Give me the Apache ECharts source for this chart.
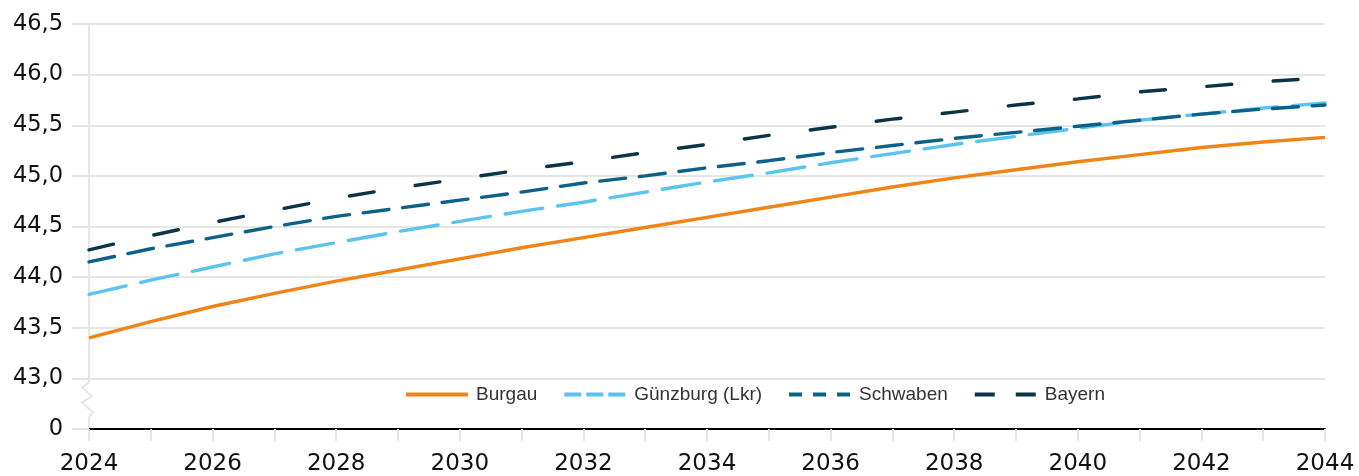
<!DOCTYPE html>
<html><head><meta charset="utf-8">
<script src="https://cdn.jsdelivr.net/npm/echarts@6/dist/echarts.min.js"></script>
<style>html,body{margin:0;padding:0;background:#fff}#c{width:1359px;height:476px}</style>
</head><body><div id="c"></div>
<script>
const years = ['2024','2025','2026','2027','2028','2029','2030','2031','2032','2033','2034','2035','2036','2037','2038','2039','2040','2041','2042','2043','2044'];
const burgau   = [43.40,43.56,43.71,43.84,43.96,44.07,44.18,44.29,44.39,44.49,44.59,44.69,44.79,44.89,44.98,45.06,45.14,45.21,45.28,45.335,45.38];
const guenzburg= [43.83,43.97,44.10,44.23,44.34,44.45,44.55,44.65,44.74,44.84,44.94,45.03,45.13,45.22,45.31,45.39,45.47,45.55,45.61,45.67,45.72];
const schwaben = [44.15,44.28,44.39,44.50,44.60,44.68,44.76,44.84,44.93,45.00,45.08,45.15,45.23,45.30,45.37,45.43,45.49,45.55,45.61,45.66,45.70];
const bayern   = [44.27,44.41,44.54,44.66,44.78,44.88,44.97,45.06,45.14,45.23,45.31,45.40,45.48,45.56,45.63,45.70,45.76,45.83,45.88,45.93,45.97];
const seriesNames = ['Burgau','Günzburg (Lkr)','Schwaben','Bayern'];
const yMin = 42.5, yMax = 46.5, yStep = 0.5;

const colors = ['#f08416','#5ac4ec','#0c6189','#0a3547'];
const GRID = '#e6e6e6';
const chart = echarts.init(document.getElementById('c'), null, {renderer:'canvas'});

function mk(name, data, color, dash){
  return {
    name, type:'line', data, symbol:'none', smooth:false,
    lineStyle:{color, width:3.4, type: dash || 'solid', cap: dash ? 'round' : 'butt'},
    itemStyle:{color},
    emphasis:{disabled:true}, animation:false, z:3
  };
}

const option = {
  animation:false,
  grid:{left:89, right:34, top:24, bottom:46, containLabel:false},
  xAxis:{
    type:'category', data:years, boundaryGap:false,
    axisLine:{show:true, lineStyle:{color:'#000', width:2}},
    axisTick:{show:true, interval:0, length:12, lineStyle:{color:GRID, width:2}},
    axisLabel:{interval:1, margin:24, color:'#111', fontFamily:'DejaVu Sans', fontSize:23},
    splitLine:{show:false}
  },
  yAxis:{
    type:'value', min:yMin, max:yMax, interval:yStep,
    axisLine:{show:true, lineStyle:{color:GRID, width:2}},
    axisTick:{show:true, length:17, lineStyle:{color:GRID, width:2}},
    axisLabel:{margin:26, color:'#111', fontFamily:'DejaVu Sans', fontSize:22.5, padding:[4,0,0,0],
      formatter:v => Math.abs(v - yMin) < 1e-9 ? '0' : v.toFixed(1).replace('.', ',')},
    splitLine:{show:true, lineStyle:{color:GRID, width:2}}
  },
  legend:{
    left:404, top:385, padding:0, itemWidth:62, itemHeight:14, itemGap:25,
    textStyle:{fontFamily:'Liberation Sans', fontSize:19, color:'#333', padding:[0,0,0,3]},
    data:[
      {name:seriesNames[0], itemStyle:{opacity:0}, lineStyle:{width:4, type:'solid'}},
      {name:seriesNames[1], itemStyle:{opacity:0}, lineStyle:{width:4, type:[17,5], cap:'butt'}},
      {name:seriesNames[2], itemStyle:{opacity:0}, lineStyle:{width:4, type:[13,11], cap:'butt'}},
      {name:seriesNames[3], itemStyle:{opacity:0}, lineStyle:{width:4, type:[20,21], cap:'butt'}}
    ]
  },
  series:[
    mk(seriesNames[0], burgau, colors[0], null),
    mk(seriesNames[1], guenzburg, colors[1], [38,15]),
    mk(seriesNames[2], schwaben, colors[2], [26,13.8]),
    mk(seriesNames[3], bayern, colors[3], [25,41.5])
  ]
};
chart.setOption(option);

// axis break marker (zigzag) on the y axis between 43,0 and 0
const p43 = chart.convertToPixel({gridIndex:0}, [0, 43]);
const x0 = p43[0], y0 = p43[1];
chart.setOption({graphic:[
  {type:'rect', shape:{x:x0-3, y:y0+4, width:6, height:35}, style:{fill:'#fff'}, z:10, silent:true},
  {type:'polyline', shape:{points:[[x0,y0+4],[x0-7,y0+9],[x0+3,y0+18],[x0-7,y0+24],[x0+4,y0+34],[x0,y0+39]]},
   style:{stroke:GRID, lineWidth:2, fill:null}, z:11, silent:true}
]});
</script></body></html>
